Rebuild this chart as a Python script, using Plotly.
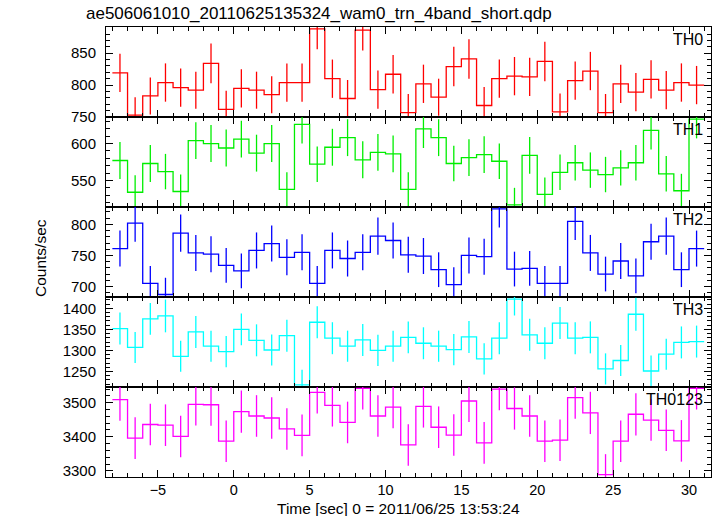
import plotly.graph_objects as go
from plotly.subplots import make_subplots

# ---- data ----
time_centers = [-7.5, -6.5, -5.5, -4.5, -3.5, -2.5, -1.5, -0.5, 0.5, 1.5, 2.5, 3.5, 4.5,
                5.5, 6.5, 7.5, 8.5, 9.5, 10.5, 11.5, 12.5, 13.5, 14.5, 15.5, 16.5, 17.5,
                18.5, 19.5, 20.5, 21.5, 22.5, 23.5, 24.5, 25.5, 26.5, 27.5, 28.5, 29.5, 30.5]
bin_half_width = 0.5

th0 = [819, 753, 783, 804, 796, 792, 834, 762, 795, 792, 785, 804, 804,
       888, 810, 779, 886, 793, 817, 757, 802, 781, 829, 841, 768, 810,
       814, 813, 837, 758, 807, 822, 757, 802, 789, 809, 792, 804, 800]
th0_err = [30, 28, 29, 30, 30, 29, 31, 29, 30, 29, 29, 30, 30,
           32, 30, 29, 32, 30, 30, 29, 30, 29, 31, 31, 29, 30,
           30, 30, 31, 29, 30, 30, 29, 30, 30, 30, 30, 30, 30]

th1 = [577, 534, 573, 562, 535, 604, 600, 594, 606, 587, 600, 538, 626,
       572, 595, 608, 578, 588, 586, 538, 620, 608, 573, 581, 585, 576,
       517, 584, 531, 561, 574, 564, 558, 567, 574, 618, 559, 536, 633]
th1_err = [25, 23, 25, 24, 23, 25, 25, 25, 25, 25, 25, 23, 26,
           24, 25, 25, 25, 25, 25, 23, 26, 25, 24, 25, 25, 24,
           23, 25, 23, 24, 24, 24, 24, 24, 24, 26, 24, 23, 26]

th2 = [761, 802, 705, 687, 786, 754, 752, 734, 725, 758, 769, 747, 755,
       705, 758, 745, 755, 781, 774, 751, 749, 727, 703, 750, 748, 825,
       728, 729, 705, 705, 805, 754, 720, 741, 717, 772, 781, 727, 761]
th2_err = [29, 30, 28, 27, 30, 29, 29, 28, 28, 29, 29, 29, 29,
           28, 29, 29, 29, 30, 29, 29, 29, 28, 28, 29, 29, 30,
           28, 28, 28, 28, 30, 29, 28, 29, 28, 29, 30, 28, 29]

th3 = [1352, 1307, 1375, 1382, 1286, 1344, 1310, 1297, 1350, 1324, 1301, 1335, 1218,
       1367, 1329, 1310, 1325, 1300, 1310, 1331, 1317, 1310, 1302, 1332, 1280, 1329,
       1422, 1337, 1317, 1365, 1329, 1331, 1256, 1276, 1386, 1251, 1291, 1319, 1321]
th3_err = [38, 37, 38, 39, 37, 38, 37, 37, 38, 38, 37, 38, 36,
           38, 38, 37, 38, 37, 37, 38, 38, 37, 37, 38, 37, 38,
           39, 38, 38, 38, 38, 38, 37, 37, 39, 37, 37, 38, 38]

th0123 = [3509, 3396, 3436, 3434, 3401, 3495, 3494, 3387, 3474, 3461, 3455, 3423, 3404,
          3530, 3492, 3442, 3542, 3461, 3487, 3376, 3489, 3428, 3405, 3505, 3382, 3540,
          3483, 3461, 3387, 3390, 3515, 3470, 3289, 3387, 3466, 3449, 3419, 3388, 3542]
th0123_err = [62, 61, 61, 61, 61, 62, 62, 61, 62, 61, 61, 61, 61,
              62, 62, 61, 62, 61, 62, 61, 62, 61, 61, 62, 61, 62,
              62, 61, 61, 61, 62, 62, 60, 61, 62, 61, 61, 61, 62]

series_names = ["TH0", "TH1", "TH2", "TH3", "TH0123"]
series_values = [th0, th1, th2, th3, th0123]
series_errors = [th0_err, th1_err, th2_err, th3_err, th0123_err]
series_colors = ["#ff0000", "#00ee00", "#0000ff", "#00ffff", "#ff00ff"]
y_ranges = [[750, 891], [514, 636], [683, 828], [1213, 1427], [3282, 3546]]
y_dticks = [50, 50, 50, 50, 100]
y_minor = [10, 10, 10, 10, 20]
x_range = [-8.42, 31.45]

title_text = "ae506061010_20110625135324_wam0_trn_4band_short.qdp"
x_title = "Time [sec] 0 = 2011/06/25 13:53:24"
y_title = "Counts/sec"

FONT = "Liberation Sans, Arial, Helvetica, sans-serif"

fig = make_subplots(rows=5, cols=1, shared_xaxes=True, vertical_spacing=0)

edges = [c - bin_half_width for c in time_centers] + [time_centers[-1] + bin_half_width]

for i, (name, vals, errs, col) in enumerate(zip(series_names, series_values, series_errors, series_colors)):
    row = i + 1
    fig.add_trace(go.Scatter(x=edges, y=vals + [vals[-1]], mode="lines", line_shape="hv",
                             line=dict(color=col, width=1.3), showlegend=False, hoverinfo="skip"),
                  row=row, col=1)
    fig.add_trace(go.Scatter(x=time_centers, y=vals, mode="markers",
                             marker=dict(size=0.1, color=col, opacity=0),
                             error_y=dict(type="data", array=errs, visible=True, color=col,
                                          thickness=1.3, width=0),
                             showlegend=False, hoverinfo="skip"),
                  row=row, col=1)
    fig.update_yaxes(range=y_ranges[i], dtick=y_dticks[i], ticks="inside", ticklen=7,
                     tickcolor="black", showline=True, linecolor="black", linewidth=1,
                     mirror="ticks", showgrid=False, zeroline=False,
                     tickfont=dict(family=FONT, size=15, color="black"),
                     ticklabelstandoff=6,
                     minor=dict(ticks="inside", ticklen=4, dtick=y_minor[i], tickcolor="black",
                                showgrid=False),
                     row=row, col=1)
    fig.update_xaxes(range=x_range, dtick=5, ticks="inside", ticklen=7, tickcolor="black",
                     showline=True, linecolor="black", linewidth=1, mirror="ticks",
                     showgrid=False, zeroline=False,
                     showticklabels=(row == 5),
                     ticklabelstandoff=0,
                     tickfont=dict(family=FONT, size=14.5, color="black"),
                     minor=dict(ticks="inside", ticklen=4, dtick=1, tickcolor="black",
                                showgrid=False),
                     row=row, col=1)
    top = 1 - i / 5.0
    fig.add_annotation(text=name, xref="paper", yref="paper", x=0.99, y=top,
                       xanchor="right", yanchor="top", yshift=-2, showarrow=False,
                       font=dict(family=FONT, size=16, color="black"))

L, R, T, B = 106, 6, 27, 39
W, H = 717, 516
pw = W - L - R
ph = H - T - B

fig.add_annotation(text=title_text, xref="paper", yref="paper",
                   x=(84 - L) / pw, y=1 + (27 - 13) / ph, xanchor="left", yanchor="middle",
                   showarrow=False, font=dict(family=FONT, size=17, color="black"))
fig.add_annotation(text=x_title, xref="paper", yref="paper",
                   x=(398 - L) / pw, y=-(508 - (H - B)) / ph, xanchor="center", yanchor="middle",
                   showarrow=False, font=dict(family=FONT, size=15.5, color="black"))
fig.add_annotation(text=y_title, xref="paper", yref="paper",
                   x=(40 - L) / pw, y=0.5 - (258 - (T + ph / 2)) / ph, xanchor="center", yanchor="middle",
                   textangle=-90, showarrow=False, font=dict(family=FONT, size=15.5, color="black"))

fig.update_layout(width=W, height=H, margin=dict(l=L, r=R, t=T, b=B),
                  paper_bgcolor="white", plot_bgcolor="white", showlegend=False)

fig.write_html("out.html", config={"displayModeBar": False},
               post_script="document.body.style.margin='0';document.body.style.overflow='hidden';")
